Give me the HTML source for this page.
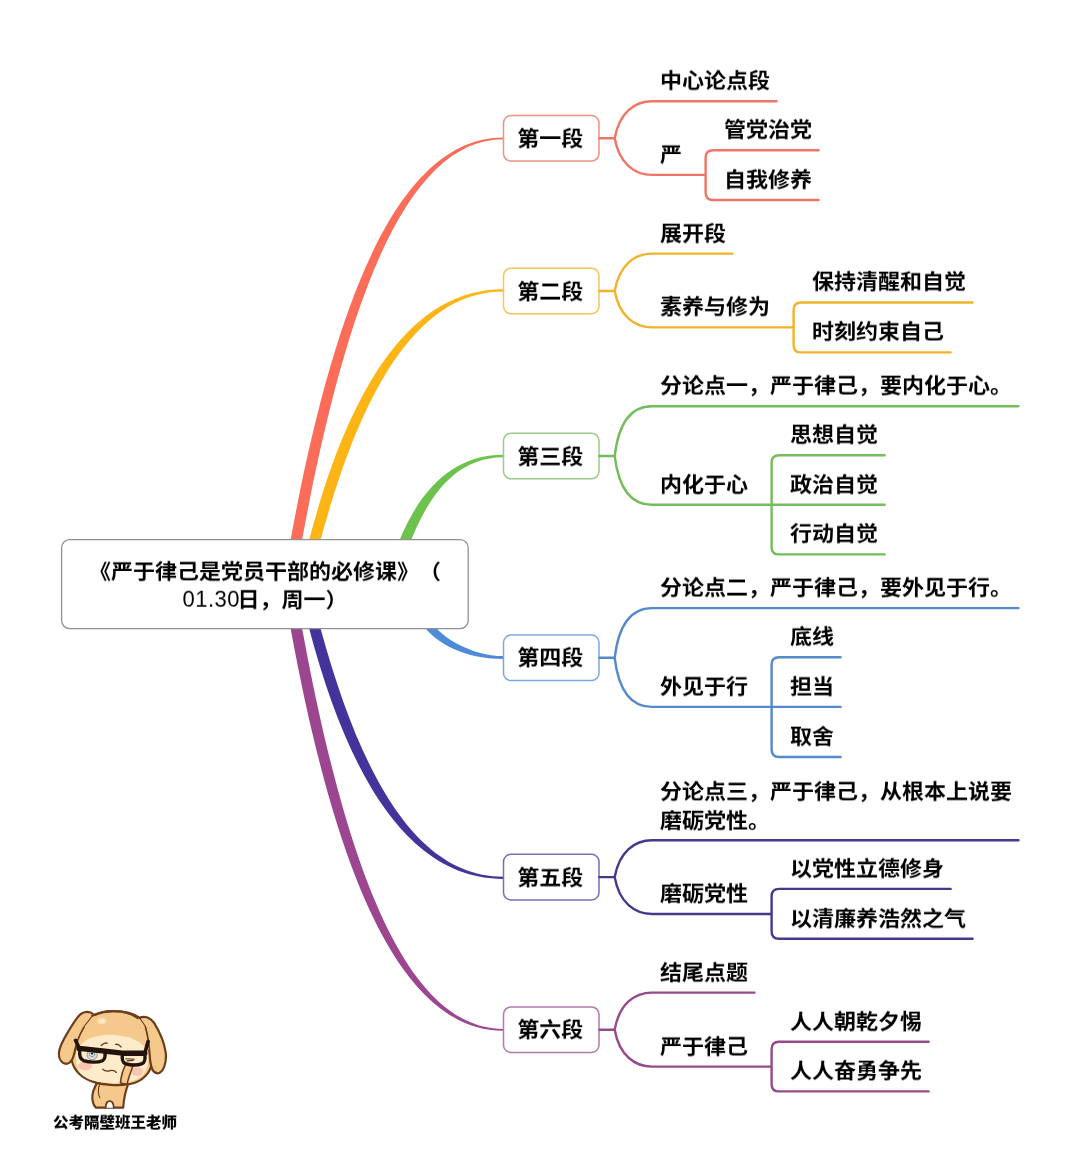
<!DOCTYPE html>
<html lang="zh-CN">
<head>
<meta charset="utf-8">
<title>严于律己是党员干部的必修课</title>
<style>
html,body{margin:0;padding:0;background:#fff;}
body{position:relative;width:1080px;height:1153px;overflow:hidden;font-family:"Liberation Sans","Noto Sans CJK SC",sans-serif;color:#000;}
svg.map{position:absolute;left:0;top:0;}
.t,.n,.c,.cap{position:absolute;font-weight:bold;font-size:22px;line-height:30px;white-space:nowrap;text-spacing-trim:space-all;font-kerning:none;transform:scaleY(0.94);transform-origin:50% 50%;will-change:transform;}
.n{text-align:center;}
.c{text-align:center;line-height:30px;}
.c .d{font-weight:normal;letter-spacing:0.5px;margin-right:-2.5px;display:inline-block;line-height:1;transform:scaleY(1.1);transform-origin:50% 82%;}
.cap{font-size:15.5px;font-weight:900;line-height:22px;left:15px;top:1112px;width:200px;text-align:center;}
</style>
</head>
<body>
<svg class="map" width="1080" height="1153" viewBox="0 0 1080 1153">
<path d="M289.8 544.2 L290.7 539.3 C333.2 307.7 396.5 137.4 503.3 137.4 L503.3 139.3 C406.7 139.3 346.4 299.1 302.2 539.3 L301.3 544.2 Z" fill="#FB6D59"/>
<path d="M308 544.1 L309.3 539.3 C346.9 397.4 405.8 289.3 503.3 289.3 L503.3 291.5 C414.1 291.5 359.4 398 320.7 539.3 L319.4 544.1 Z" fill="#FDB415"/>
<path d="M398.1 543.9 L400 539.3 C419.4 492.1 451.4 454.7 503.3 454.7 L503.3 457.2 C451.3 457.2 426 503.8 411.4 539.3 L409.5 543.9 Z" fill="#6CC24D"/>
<path d="M422.9 625.1 L426.1 628.9 C437.1 642 463 658.9 503.3 658.9 L503.3 656.1 C471.3 656.1 443.2 636.5 437.2 628.9 L434.1 625 Z" fill="#4D8BD8"/>
<path d="M308 624.1 L309.3 628.9 C346.9 770.8 405.8 878.9 503.3 878.9 L503.3 876.7 C414.1 876.7 359.4 770.2 320.7 628.9 L319.4 624.1 Z" fill="#44339A"/>
<path d="M289.8 624 L290.7 628.9 C333.2 860.5 396.5 1030.8 503.3 1030.8 L503.3 1028.9 C406.7 1028.9 346.4 869.1 302.2 628.9 L301.3 624 Z" fill="#9D4690"/>
<rect x="503.5" y="115.5" width="95.5" height="45.6" rx="7.5" fill="#fff" stroke="#EE9384" stroke-width="1.5"/>
<path d="M599.4 138.3 H614.7 M614.7 138.3 C619.2 112.5 634.8 101.2 652 101.2 M652 101.2 H776.5 M614.7 138.3 C619.2 163.6 634.8 174.9 652 174.9 M652 174.9 H705.6 M705.6 174.9 V157.7 Q705.6 150.2 713.1 150.2 H818.6 M705.6 174.9 V192.5 Q705.6 200 713.1 200 H818.6" fill="none" stroke="#EE7666" stroke-width="2.4" stroke-linecap="round" stroke-linejoin="round"/>
<rect x="503.5" y="268.2" width="95.5" height="45.6" rx="7.5" fill="#fff" stroke="#F3C657" stroke-width="1.5"/>
<path d="M599.4 291 H614.7 M614.7 291 C619.2 264.9 634.8 253.6 652 253.6 M652 253.6 H732.5 M614.7 291 C619.2 316.1 634.8 327.4 652 327.4 M652 327.4 H793.6 M793.6 327.4 V310 Q793.6 302.5 801.1 302.5 H972.6 M793.6 327.4 V344.9 Q793.6 352.4 801.1 352.4 H950.6" fill="none" stroke="#F0B32A" stroke-width="2.4" stroke-linecap="round" stroke-linejoin="round"/>
<rect x="503.5" y="433.2" width="95.5" height="45.6" rx="7.5" fill="#fff" stroke="#98CB85" stroke-width="1.5"/>
<path d="M599.4 456 H614.7 M614.7 456 C619.2 417.6 634.8 406.3 652 406.3 M652 406.3 H1018.5 M614.7 456 C619.2 493.5 634.8 504.8 652 504.8 M652 504.8 H771.6 M771.6 504.8 V462.8 Q771.6 455.3 779.1 455.3 H884.6 M771.6 504.8 H884.6 M771.6 504.8 V546.9 Q771.6 554.4 779.1 554.4 H884.6" fill="none" stroke="#74BC5C" stroke-width="2.4" stroke-linecap="round" stroke-linejoin="round"/>
<rect x="503.5" y="635" width="95.5" height="45.6" rx="7.5" fill="#fff" stroke="#7FA6DC" stroke-width="1.5"/>
<path d="M599.4 657.8 H614.7 M614.7 657.8 C619.2 619.4 634.8 608.1 652 608.1 M652 608.1 H1018.5 M614.7 657.8 C619.2 695.6 634.8 706.9 652 706.9 M652 706.9 H771.6 M771.6 706.9 V664.8 Q771.6 657.2 779.1 657.2 H840.6 M771.6 706.9 H840.6 M771.6 706.9 V749.5 Q771.6 757 779.1 757 H840.6" fill="none" stroke="#5489CC" stroke-width="2.4" stroke-linecap="round" stroke-linejoin="round"/>
<rect x="503.5" y="854.3" width="95.5" height="45.6" rx="7.5" fill="#fff" stroke="#7A6DB6" stroke-width="1.5"/>
<path d="M599.4 877.1 H614.7 M614.7 877.1 C619.2 851.5 634.8 840.2 652 840.2 M652 840.2 H1018.5 M614.7 877.1 C619.2 902.7 634.8 914 652 914 M652 914 H771.6 M771.6 914 V896.4 Q771.6 888.9 779.1 888.9 H950.6 M771.6 914 V931.3 Q771.6 938.8 779.1 938.8 H972.6" fill="none" stroke="#44388F" stroke-width="2.4" stroke-linecap="round" stroke-linejoin="round"/>
<rect x="503.5" y="1006.9" width="95.5" height="45.6" rx="7.5" fill="#fff" stroke="#B578AB" stroke-width="1.5"/>
<path d="M599.4 1029.7 H614.7 M614.7 1029.7 C619.2 1003.9 634.8 992.6 652 992.6 M652 992.6 H754.5 M614.7 1029.7 C619.2 1055.3 634.8 1066.6 652 1066.6 M652 1066.6 H771.6 M771.6 1066.6 V1049.3 Q771.6 1041.8 779.1 1041.8 H928.6 M771.6 1066.6 V1083.9 Q771.6 1091.4 779.1 1091.4 H928.6" fill="none" stroke="#964A89" stroke-width="2.4" stroke-linecap="round" stroke-linejoin="round"/>
<rect x="61.6" y="539.6" width="406.6" height="89" rx="8" fill="#fff" stroke="#909198" stroke-width="1.3"/>
</svg>
<svg class="dog" width="130" height="115" viewBox="0 0 1080 955" style="position:absolute;left:50px;top:1000px">
<g stroke="#6b3d1c" stroke-width="18" stroke-linejoin="round" stroke-linecap="round">
<!-- body -->
<path d="M395 680 C372 720 346 770 352 822 C356 860 368 882 382 894 L608 894 C612 830 625 760 652 690 Z" fill="#f4c98b"/>
<path d="M462 894 C464 852 478 840 496 840 C514 840 528 852 530 894" fill="#fff" stroke-width="15"/>
<path d="M412 700 C397 740 400 790 414 812" fill="none" stroke-width="9"/>
<!-- head -->
<path d="M520 92 C640 90 752 130 806 250 C850 350 862 470 838 560 C812 640 730 690 640 702 C560 712 440 706 360 680 C270 650 200 590 180 500 C165 420 180 330 230 250 C290 150 400 94 520 92 Z" fill="#f4c98b"/>
<!-- ears (in front) -->
<path d="M365 122 C340 100 300 92 262 112 C225 135 190 200 150 265 C110 330 78 390 74 440 C72 490 95 525 135 530 C170 528 190 490 200 450 C215 380 240 300 285 225 Z" fill="#f4c98b"/>
<path d="M740 150 C780 128 830 140 865 190 C905 255 950 350 962 440 C970 530 940 600 895 610 C855 610 838 560 832 500 C825 400 815 300 790 222 Z" fill="#f4c98b"/>
</g>
<!-- cover the ear/head seam on the head side -->
<path d="M365 122 L285 225 C255 275 235 330 220 380 L300 400 L420 180 Z" fill="#f4c98b"/>
<path d="M740 150 L790 222 C808 290 818 350 824 410 L760 400 L700 200 Z" fill="#f4c98b"/>
<path d="M285 225 C245 290 215 370 200 450" fill="none" stroke="#6b3d1c" stroke-width="9" stroke-linecap="round"/>
<path d="M790 222 C812 300 826 400 832 500" fill="none" stroke="#6b3d1c" stroke-width="9" stroke-linecap="round"/>
<path d="M352 130 C400 105 460 92 520 92 C600 91 690 108 750 150" fill="none" stroke="#6b3d1c" stroke-width="18" stroke-linecap="round"/>
<!-- face -->
<path d="M225 410 C265 330 380 285 510 288 C640 292 765 335 808 420 C828 500 812 580 768 628 C720 676 620 692 530 692 C440 692 330 676 272 628 C215 580 205 480 225 410 Z" fill="#fdebca"/>
<ellipse cx="430" cy="175" rx="38" ry="26" fill="#fbe2b4"/>
<ellipse cx="435" cy="172" rx="16" ry="11" fill="#fdf1d8"/>
<!-- blush -->
<ellipse cx="292" cy="548" rx="58" ry="36" fill="#f9b5a8" opacity="0.75"/>
<ellipse cx="725" cy="595" rx="48" ry="36" fill="#f9b5a8" opacity="0.75"/>
<!-- raised arm -->
<path d="M585 690 C590 640 605 580 630 535 L690 545 C670 600 650 650 640 700 Z" fill="#f4c98b" stroke="#6b3d1c" stroke-width="13" stroke-linejoin="round"/>
<!-- eye -->
<circle cx="350" cy="455" r="42" fill="#d5dde0" stroke="#8a8f90" stroke-width="7"/>
<circle cx="350" cy="448" r="22" fill="#eef2f3" stroke="#6d7374" stroke-width="6"/>
<circle cx="350" cy="444" r="10" fill="#2e2a28"/>
<!-- closed eye -->
<path d="M630 488 L700 492 M640 506 L690 502" stroke="#6b2f22" stroke-width="10" fill="none" stroke-linecap="round"/>
<!-- glasses -->
<g fill="none" stroke="#24130c" stroke-linejoin="round" stroke-linecap="round">
<path d="M212 335 L245 405" stroke-width="30"/>
<path d="M815 345 L788 440" stroke-width="30"/>
<path d="M242 402 L455 425 L600 442 L788 442" stroke-width="44"/>
<path d="M248 410 C243 450 252 492 278 503 C330 520 400 520 436 504 C456 492 460 455 456 428" stroke-width="28"/>
<path d="M602 448 C597 482 602 518 626 528 C670 542 730 542 766 528 C786 518 792 482 788 448" stroke-width="28"/>
</g>
<!-- brows -->
<path d="M425 378 C440 362 458 355 475 358 M545 368 C560 366 578 374 590 390" stroke="#6b3d1c" stroke-width="11" fill="none" stroke-linecap="round"/>
<!-- mouth -->
<path d="M438 575 C455 592 480 592 500 586 C520 582 540 588 552 602" stroke="#6b3d1c" stroke-width="10" fill="none" stroke-linecap="round"/>
</svg>

<div class="n" style="left:502.4px;top:123.8px;width:96.4px">第一段</div>
<div class="t" style="left:659.8px;top:66.1px">中心论点段</div>
<div class="t" style="left:659.8px;top:139.8px">严</div>
<div class="t" style="left:723.9px;top:115.1px">管党治党</div>
<div class="t" style="left:723.9px;top:164.9px">自我修养</div>
<div class="n" style="left:502.4px;top:276.5px;width:96.4px">第二段</div>
<div class="t" style="left:659.8px;top:218.5px">展开段</div>
<div class="t" style="left:659.8px;top:292.3px">素养与修为</div>
<div class="t" style="left:811.9px;top:267.4px">保持清醒和自觉</div>
<div class="t" style="left:811.9px;top:317.3px">时刻约束自己</div>
<div class="n" style="left:502.4px;top:441.5px;width:96.4px">第三段</div>
<div class="t" style="left:659.8px;top:371.2px">分论点一，严于律己，要内化于心。</div>
<div class="t" style="left:659.8px;top:469.7px">内化于心</div>
<div class="t" style="left:789.9px;top:420.2px">思想自觉</div>
<div class="t" style="left:789.9px;top:469.7px">政治自觉</div>
<div class="t" style="left:789.9px;top:519.2px">行动自觉</div>
<div class="n" style="left:502.4px;top:643.3px;width:96.4px">第四段</div>
<div class="t" style="left:659.8px;top:573px">分论点二，严于律己，要外见于行。</div>
<div class="t" style="left:659.8px;top:671.8px">外见于行</div>
<div class="t" style="left:789.9px;top:622.1px">底线</div>
<div class="t" style="left:789.9px;top:671.8px">担当</div>
<div class="t" style="left:789.9px;top:721.9px">取舍</div>
<div class="n" style="left:502.4px;top:862.6px;width:96.4px">第五段</div>
<div class="t" style="left:659.8px;top:774.6px;line-height:31px">分论点三，严于律己，从根本上说要<br>磨砺党性。</div>
<div class="t" style="left:659.8px;top:878.9px">磨砺党性</div>
<div class="t" style="left:789.9px;top:853.8px">以党性立德修身</div>
<div class="t" style="left:789.9px;top:903.7px">以清廉养浩然之气</div>
<div class="n" style="left:502.4px;top:1015.2px;width:96.4px">第六段</div>
<div class="t" style="left:659.8px;top:957.5px">结尾点题</div>
<div class="t" style="left:659.8px;top:1031.5px">严于律己</div>
<div class="t" style="left:789.9px;top:1006.7px">人人朝乾夕惕</div>
<div class="t" style="left:789.9px;top:1056.3px">人人奋勇争先</div>
<div class="c" style="left:61px;top:555.5px;width:408px">《严于律己是党员干部的必修课》（<br><span class="d">01.30</span>日，周一）</div>
<div class="cap">公考隔壁班王老师</div>
</body>
</html>
